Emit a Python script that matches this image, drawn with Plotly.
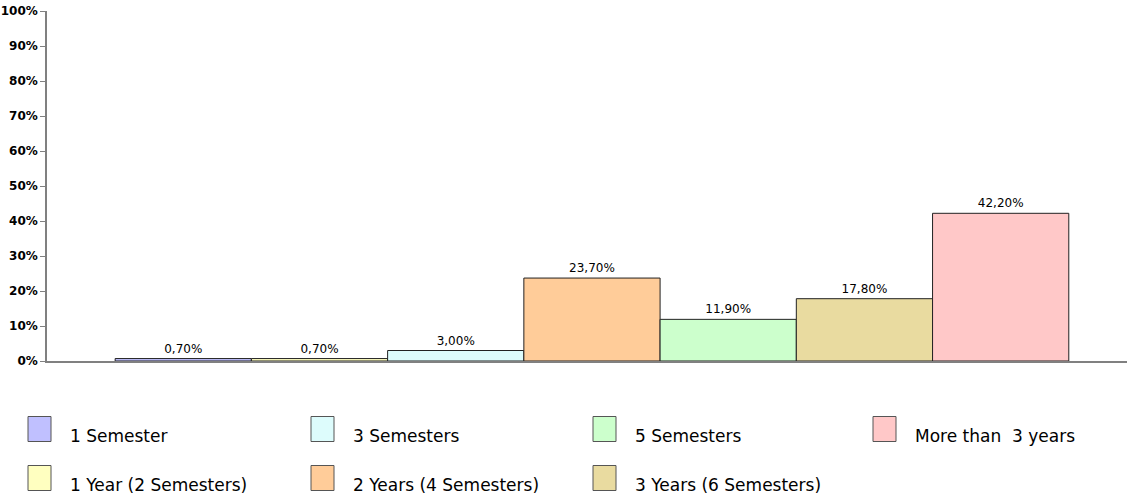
import plotly.graph_objects as go

# ---- data ----
series_names = ["1 Semester", "1 Year (2 Semesters)", "3 Semesters",
                "2 Years (4 Semesters)", "5 Semesters", "3 Years (6 Semesters)",
                "More than  3 years"]
series_values = [0.70, 0.70, 3.00, 23.70, 11.90, 17.80, 42.20]
series_colors = ["#c0c0ff", "#ffffc0", "#ddfcfc", "#ffcc99", "#ccffcc", "#e9dba0", "#ffc8c8"]
category = [""]
y_ticks = list(range(0, 101, 10))
y_tick_labels = [f"{v}%" for v in y_ticks]

W, H = 1128, 499
ML, MR, MT, MB = 47, 1, 11, 138

fig = go.Figure()
for name, val, col in zip(series_names, series_values, series_colors):
    fig.add_trace(go.Bar(
        x=category, y=[val], name=name,
        marker=dict(color=col, line=dict(color="#222222", width=1)),
        text=[f"{val:.2f}%".replace(".", ",")],
        textposition="outside",
        textfont=dict(family="DejaVu Sans", size=12, color="#000000"),
        cliponaxis=False,
        showlegend=False,
    ))

# ---- manual legend (2 rows, column-major order) ----
pw = W - ML - MR
ph = H - MT - MB
col_px = [28, 311, 593, 873]
row_py = [429, 478]
sw, sh = 23, 25
shapes, annotations = [], []
for i, (name, col) in enumerate(zip(series_names, series_colors)):
    c, r = i // 2, i % 2
    x0 = col_px[c]
    yc = row_py[r]
    shapes.append(dict(
        type="rect", xref="paper", yref="paper",
        x0=(x0 - ML) / pw, x1=(x0 + sw - ML) / pw,
        y0=(H - MB - (yc + sh / 2)) / ph, y1=(H - MB - (yc - sh / 2)) / ph,
        fillcolor=col, line=dict(color="#555555", width=1),
    ))
    annotations.append(dict(
        xref="paper", yref="paper", x=(x0 + 40 - ML) / pw,
        y=(H - MB - (yc + 7)) / ph, xanchor="left", yanchor="middle",
        text=name, showarrow=False,
        font=dict(family="DejaVu Sans", size=17, color="#000000"),
    ))

fig.update_layout(
    width=W, height=H,
    margin=dict(l=ML, r=MR, t=MT, b=MB),
    paper_bgcolor="white", plot_bgcolor="white",
    barmode="group", bargap=0.117, bargroupgap=0,
    shapes=shapes, annotations=annotations,
    xaxis=dict(showticklabels=False, ticks="", showgrid=False, zeroline=False,
               range=[-0.5046, 0.4954],
               showline=True, linecolor="#808080", linewidth=1.5),
    yaxis=dict(range=[0, 100], tickvals=y_ticks, ticktext=y_tick_labels,
               ticks="outside", ticklen=5, tickcolor="#808080",
               showgrid=False, zeroline=False, showline=True,
               linecolor="#808080", linewidth=1.5,
               tickfont=dict(family="DejaVu Sans", size=12, color="#000000", weight="bold")),
)

fig.write_html("out.html", config={"displayModeBar": False},
               post_script="document.body.style.margin='0';")
